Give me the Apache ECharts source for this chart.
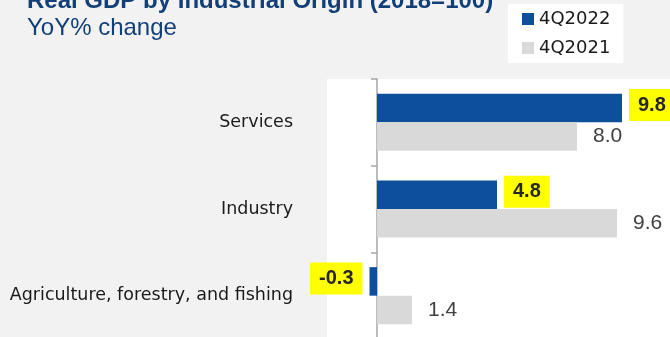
<!DOCTYPE html>
<html>
<head>
<meta charset="utf-8">
<script src="https://cdn.jsdelivr.net/npm/echarts@6/dist/echarts.min.js"></script>
<style>
html,body{margin:0;padding:0;background:#f2f2f2;}
#chart{width:670px;height:337px;}
</style>
</head>
<body>
<div id="chart"></div>
<script>
const categories = ['Agriculture, forestry, and fishing', 'Industry', 'Services'];
const seriesNames = ['4Q2022', '4Q2021'];
const values2022 = [-0.3, 4.8, 9.8];
const values2021 = [1.4, 9.6, 8.0];

const chart = echarts.init(document.getElementById('chart'));

const data2022 = values2022.map(v => ({
  value: v,
  label: { position: v < 0 ? 'left' : 'right' }
}));

chart.setOption({
  backgroundColor: '#f2f2f2',
  animation: false,
  title: [
    { text: 'Real GDP by Industrial Origin (2018=100)', left: 22, top: -16,
      textStyle: { fontFamily: 'Liberation Sans', fontSize: 24, fontWeight: 'bold', color: '#123f78' } },
    { text: 'YoY% change', left: 22, top: 11,
      textStyle: { fontFamily: 'Liberation Sans', fontSize: 24, fontWeight: 'normal', color: '#123f78' } }
  ],
  legend: {
    orient: 'vertical', left: 508, top: 4,
    backgroundColor: '#ffffff',
    padding: [5, 13, 5, 14],
    itemWidth: 12, itemHeight: 12, itemGap: 9,
    icon: 'rect',
    textStyle: { fontFamily: 'DejaVu Sans', fontSize: 18, color: '#1a1a1a', lineHeight: 20 },
    data: seriesNames
  },
  grid: {
    left: 327, right: 0, top: 79, bottom: -2,
    containLabel: false, outerBoundsMode: 'none',
    show: true, backgroundColor: '#ffffff', borderWidth: 0
  },
  xAxis: {
    type: 'value', min: -2, max: 11.72, show: false
  },
  yAxis: {
    type: 'category', data: categories,
    axisLine: { show: true, onZero: true, lineStyle: { color: '#a6a6a6', width: 1.5 } },
    axisTick: { show: true, length: 6, lineStyle: { color: '#a6a6a6', width: 1.5 } },
    axisLabel: { margin: 34, fontFamily: 'DejaVu Sans', fontSize: 17.5, color: '#1a1a1a' },
    splitLine: { show: false }
  },
  series: [
    {
      name: seriesNames[0], type: 'bar', data: data2022,
      barWidth: 28.5, barGap: '0%',
      itemStyle: { color: '#0e4f9c' },
      label: {
        show: true, distance: 7, formatter: p => p.value.toFixed(1),
        fontFamily: 'Liberation Sans', fontSize: 20, fontWeight: 'bold', color: '#262626',
        backgroundColor: '#ffff00', padding: [7, 9, 5, 9], offset: [0, -3]
      }
    },
    {
      name: seriesNames[1], type: 'bar', data: values2021,
      barWidth: 28.5, barGap: '0%',
      itemStyle: { color: '#d9d9d9' },
      label: {
        show: true, position: 'right', distance: 16, formatter: p => p.value.toFixed(1),
        fontFamily: 'Liberation Sans', fontSize: 21, color: '#404040'
      }
    }
  ]
});
</script>
</body>
</html>
